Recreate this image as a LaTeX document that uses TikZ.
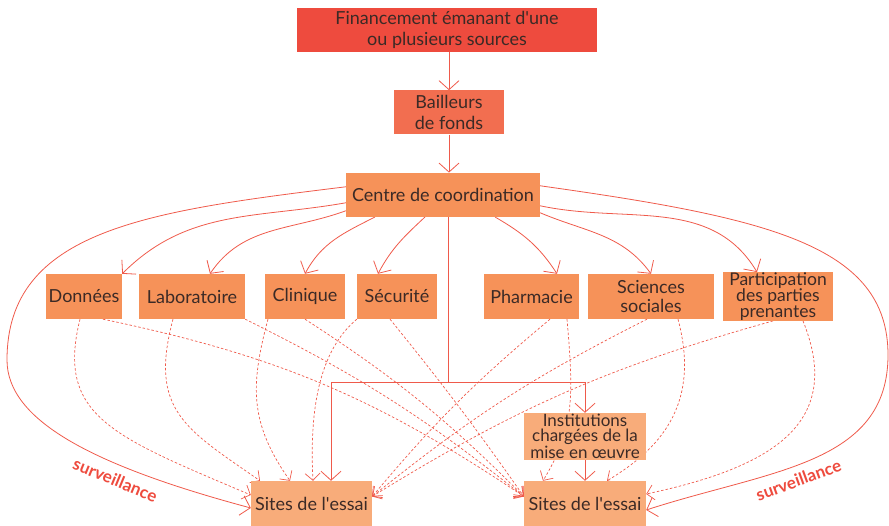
\documentclass[tikz,border=0pt]{standalone}
\usepackage{fontspec}
\setmainfont{Lato}
\usepackage{tikz}
\usetikzlibrary{positioning}
\usetikzlibrary{calc}
\usetikzlibrary{arrows.meta}
\usetikzlibrary{backgrounds}

\definecolor{rougetrait}{HTML}{EF5A4B}
\definecolor{rougefin}{HTML}{EE4B3E}
\definecolor{corail}{HTML}{F26E50}
\definecolor{orangeb}{HTML}{F69259}
\definecolor{peche}{HTML}{F8AC7A}
\definecolor{texte}{HTML}{3B2A26}

\begin{document}
\begin{tikzpicture}[x=1pt, y=1pt,
	boite/.style={fill=orangeb, text=texte, inner sep=0pt, align=center,
		font=\fontsize{18}{21}\selectfont, minimum height=45pt},
	plein/.style={draw=rougetrait, line width=0.8pt},
	fleche/.style={plein, -{Straight Barb[length=9pt,width=20pt]}},
	tiret/.style={draw=rougetrait, line width=0.7pt, dash pattern=on 2.5pt off 2pt,
		-{Straight Barb[length=7pt,width=15pt]}},
	surv/.style={text=rougefin, font=\fontsize{17}{19}\selectfont\bfseries}]
		\useasboundingbox (0,0) rectangle (889,526);
		\node[boite, fill=rougefin, minimum width=300pt, minimum height=44pt] (Fin) at (447,496) {Financement émanant d\textquotesingle une\\ou plusieurs sources};
		\node[boite, fill=corail, minimum width=110pt, minimum height=44pt, below = 38pt of Fin, xshift=2pt] (Bail) {Bailleurs\\de fonds};
		\node[boite, minimum width=194pt, minimum height=44pt, below = 38pt of Bail, xshift=-6pt] (Coord) {Centre de coordination};
		\node[boite, minimum width=76pt] (Don) at (84,229.5) {Données};
		\node[boite, minimum width=106pt] (Lab) at (192,229.5) {Laboratoire};
		\node[boite, minimum width=80pt] (Clin) at (305,229.5) {Clinique};
		\node[boite, minimum width=80pt] (Secu) at (397,229.5) {Sécurité};
		\node[boite, minimum width=95pt] (Pharm) at (531.5,229.5) {Pharmacie};
		\node[boite, minimum width=126pt, font=\fontsize{18}{19}\selectfont] (Soc) at (651,229.5) {Sciences\\sociales};
		\node[boite, minimum width=110pt, font=\fontsize{17.5}{14}\selectfont] (Part) at (778,229.5) {Participation\\des parties\\prenantes};
		\node[boite, fill=peche, minimum width=122pt, minimum height=47pt, font=\fontsize{17}{15}\selectfont] (Inst) at (585,89.5) {Institutions\\chargées de la\\mise en œuvre};
		\node[boite, fill=peche, minimum width=121pt] (SiteG) at (311.5,22.5) {Sites de l\textquotesingle essai};
		\node[boite, fill=peche, minimum width=122pt] (SiteD) at (585,22.5) {Sites de l\textquotesingle essai};
		\coordinate (Jonc) at (448,144);
		\coordinate (BoucleG) at (7,166);
		\coordinate (BoucleD) at (888,171);
		\begin{scope}[on background layer]
		\draw[fleche] (Fin.south -| Bail) -- (Bail);
		\draw[fleche] (Bail.south) -- (Bail.south |- Coord.north);
		% tronc vers les sites
		\draw[plein] (Coord.south -| Jonc) -- (Jonc);
		\draw[fleche] (Jonc) -| ([xshift=19.5]SiteG.north);
		\draw[fleche] (Jonc) -| (Inst.north);
		\draw[fleche] (Inst) -- (SiteD);
		% coordination -> domaines
		\draw[fleche] ([yshift=-8]Coord.west) to[out=190, in=45] (Don.north east);
		\draw[fleche] ([yshift=-16]Coord.west) to[out=200, in=56] ([xshift=18]Lab.north);
		\draw[fleche] ([xshift=-68]Coord.south) to[out=207, in=62] (Clin.north);
		\draw[fleche] ([xshift=-18]Coord.south) to[out=223, in=62] ([xshift=-19]Secu.north);
		\draw[fleche] ([xshift=52]Coord.south) to[out=330, in=123] ([xshift=25.5]Pharm.north);
		\draw[fleche] ([yshift=-18]Coord.east) to[out=337, in=126] (Soc.north);
		\draw[fleche] ([yshift=-11]Coord.east) to[out=348, in=121] ([xshift=-21]Part.north);
		% surveillance
		\draw[fleche] ([yshift=8]Coord.west) .. controls +(187:200) and +(0,130) .. (BoucleG)
			.. controls +(0,-60) and +(165:165) .. node[surv, sloped, below=5pt, pos=0.68] (SurvG) {surveillance} ([yshift=-4.5]SiteG.west);
		\draw[fleche] ([yshift=9]Coord.east) .. controls +(-8:230) and +(0,110) .. (BoucleD)
			.. controls +(0,-110) and +(18:130) .. node[surv, sloped, below=4pt, pos=0.57] (SurvD) {surveillance} ([yshift=-6.5]SiteD.east);
		% domaines -> site de gauche
		\draw[tiret] ([xshift=-4]Don.south) .. controls +(256:100) and +(157:150) .. ([yshift=8.5]SiteG.west);
		\draw[tiret] ([xshift=-19]Lab.south) .. controls +(255:95) and +(145:90) .. ([xshift=-51.5]SiteG.north);
		\draw[tiret] ([xshift=-37]Clin.south) .. controls +(255:70) and +(125:70) .. ([xshift=-21.5]SiteG.north);
		\draw[tiret] (Secu.south west) .. controls +(220:50) and +(93:70) .. ([xshift=1.5]SiteG.north);
		\draw[tiret] ([xshift=18.5]Pharm.south) to[bend right=5] ([yshift=7]SiteG.east);
		\draw[tiret] ([xshift=-4]Soc.south) to[bend right=6] ([yshift=7]SiteG.east);
		\draw[tiret] ([xshift=-5]Part.south) to[bend right=8] ([yshift=7]SiteG.east);
		% domaines -> site de droite
		\draw[tiret] ([xshift=19]Don.south) to[bend left=11] ([yshift=7]SiteD.west);
		\draw[tiret] (Lab.south east) to[bend left=6] ([yshift=7]SiteD.west);
		\draw[tiret] (Clin.south) to[bend left=6] ([yshift=7]SiteD.west);
		\draw[tiret] ([xshift=-7]Secu.south) to[bend left=2] ([yshift=7]SiteD.west);
		\draw[tiret] ([xshift=35.5]Pharm.south) .. controls +(275:80) and +(59:60) .. ([xshift=-42]SiteD.north);
		\draw[tiret] ([xshift=27]Soc.south) .. controls +(285:90) and +(31:60) .. ([xshift=22]SiteD.north);
		\draw[tiret] ([xshift=25]Part.south) .. controls +(292:110) and +(12:130) .. ([yshift=9.5]SiteD.east);
		\end{scope}
	\end{tikzpicture}
\end{document}
